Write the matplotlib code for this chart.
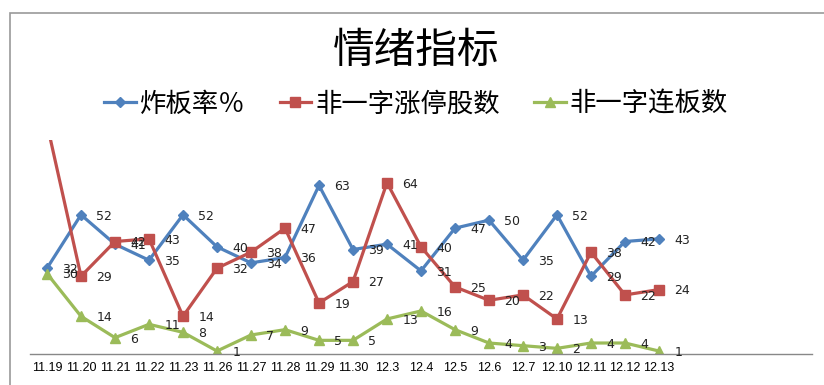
import matplotlib.pyplot as plt
from matplotlib.patches import Rectangle

plt.rcParams['font.family'] = ['Noto Sans CJK SC', 'DejaVu Sans']

dates = ['11.19', '11.20', '11.21', '11.22', '11.23', '11.26', '11.27', '11.28',
         '11.29', '11.30', '12.3', '12.4', '12.5', '12.6', '12.7', '12.10',
         '12.11', '12.12', '12.13']
zhaban = [32, 52, 41, 35, 52, 40, 34, 36, 63, 39, 41, 31, 47, 50, 35, 52, 29, 42, 43]
zhangting = [86, 29, 42, 43, 14, 32, 38, 47, 19, 27, 64, 40, 25, 20, 22, 13, 38, 22, 24]
lianban = [30, 14, 6, 11, 8, 1, 7, 9, 5, 5, 13, 16, 9, 4, 3, 2, 4, 4, 1]

series = [
    ('炸板率％', zhaban, '#4F81BD', 'D', 5),
    ('非一字涨停股数', zhangting, '#C0504D', 's', 7),
    ('非一字连板数', lianban, '#9BBB59', '^', 7),
]

fig = plt.figure(figsize=(8.24, 3.85), dpi=100)
ax = fig.add_axes([30 / 824, 1 - 353.7 / 385, 782 / 824, 213.7 / 385])

x = list(range(len(dates)))
handles = []
for name, vals, color, marker, ms in series:
    h, = ax.plot(x, vals, color=color, lw=2.3, marker=marker, ms=ms,
                 markeredgecolor=color, label=name)
    handles.append(h)
    for xi, v in zip(x, vals):
        ax.annotate(str(v), (xi, v), xytext=(11, -1), textcoords='offset points',
                    ha='left', va='center', fontsize=9, color='#222222',
                    family='DejaVu Sans')

ax.set_xlim(-0.5, 22.5)
ax.set_ylim(0, 80)
ax.set_xticks(x)
ax.set_xticklabels(dates, fontsize=9, family='Liberation Sans')
ax.tick_params(axis='x', length=0, pad=6)
ax.set_yticks([])
for s in ['top', 'right', 'left']:
    ax.spines[s].set_visible(False)
ax.spines['bottom'].set_color('#888888')
ax.spines['bottom'].set_linewidth(1)

fig.text(0.505, 1 - 51 / 385, '情绪指标', ha='center', va='center', fontsize=30)
fig.legend(handles=handles, loc='center', bbox_to_anchor=(0.505, 1 - 104 / 385),
           ncol=3, frameon=False, fontsize=19, handlelength=1.2,
           handletextpad=0.15, columnspacing=1.3)

# chart frame
fig.patches.append(Rectangle((10 / 824, -0.1), 1.2, 1 - 13 / 385 + 0.1,
                             transform=fig.transFigure, fill=False,
                             edgecolor='#999999', lw=1.2))

fig.savefig('out.png', dpi=100)
